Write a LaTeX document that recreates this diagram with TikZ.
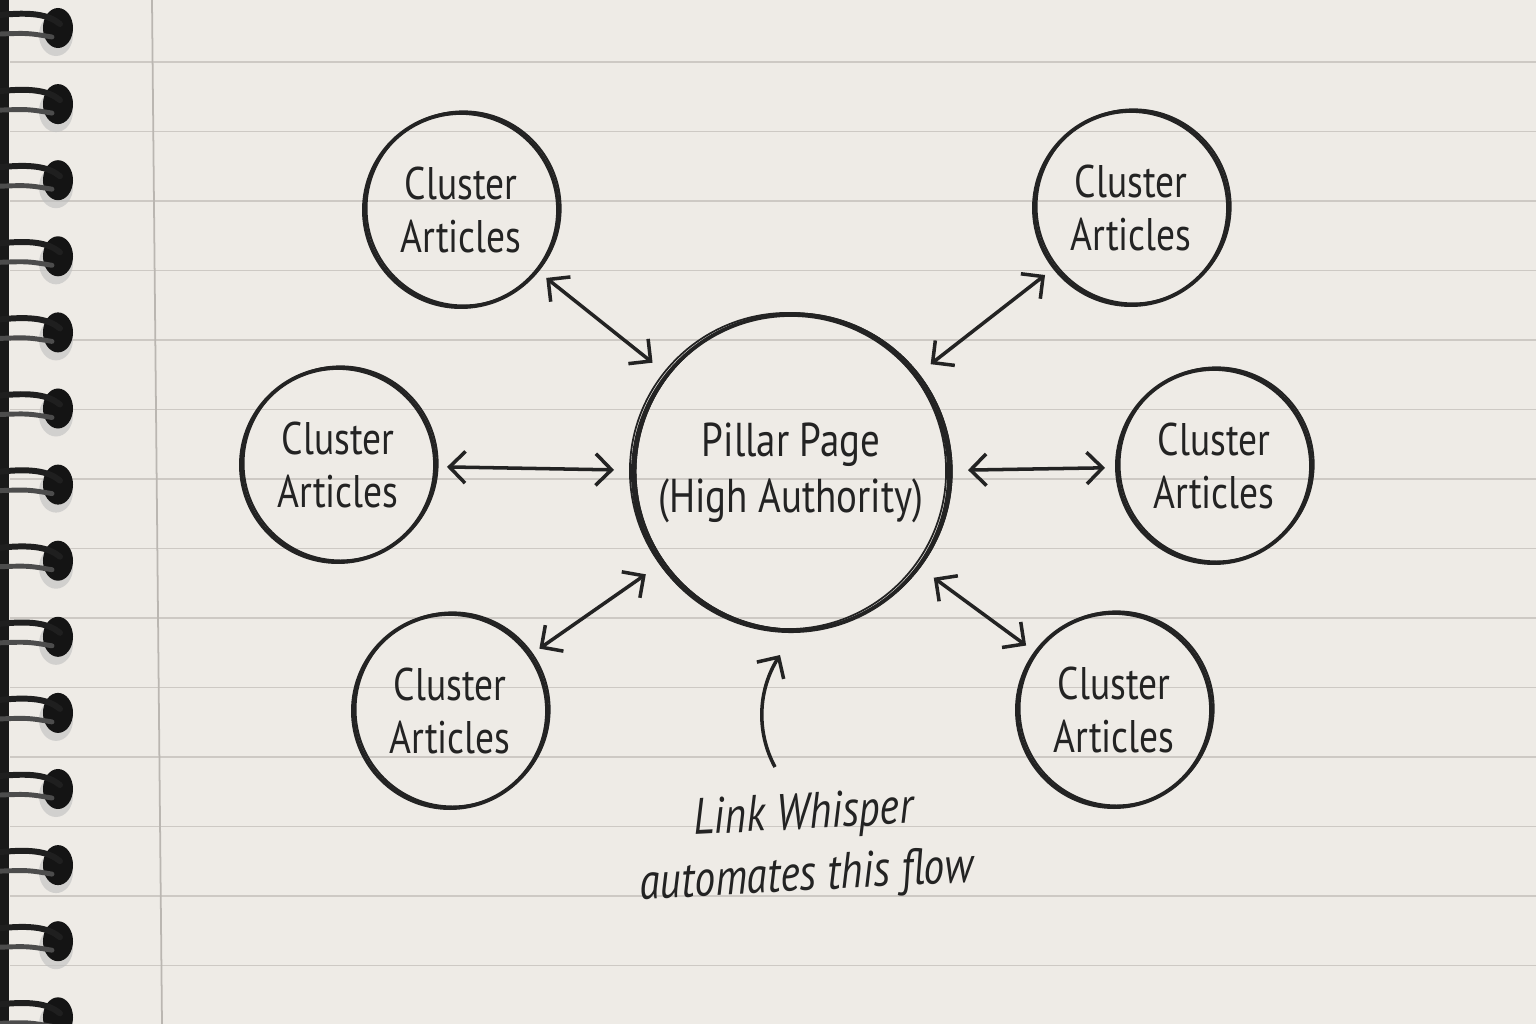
\documentclass[tikz,border=0pt]{standalone}
\usepackage{fontspec}
\setmainfont{PT Sans}[FakeStretch=0.82]
\usetikzlibrary{arrows.meta, calc}
\definecolor{paper}{HTML}{EEEBE6}
\definecolor{ink}{HTML}{232323}
\definecolor{ruling}{HTML}{CDC9C4}
\definecolor{marginline}{HTML}{BAB6B1}

\begin{document}
\begin{tikzpicture}[x=0.01cm, y=-0.01cm,
  sketch/.style={circle, draw=ink, line width=1.1pt, inner sep=0pt, align=center, text=ink,
    postaction={draw=ink, line width=0.6pt, transform canvas={shift={(0.025cm,0.015cm)}}}},
  cluster/.style={sketch, minimum size=1.94cm, font=\fontsize{13}{15}\selectfont},
  pillar/.style={sketch, minimum size=3.16cm, font=\fontsize{13.5}{16}\selectfont},
  link/.style={{Straight Barb[length=4.5pt,width=9pt]}-{Straight Barb[length=4.5pt,width=9pt]},
    draw=ink, line width=1pt, shorten <=1mm, shorten >=1.7mm},
  flow/.style={-{Straight Barb[length=4.5pt,width=9pt]}, draw=ink, line width=1pt},
  note/.style={align=center, text=ink, font=\fontsize{14.5}{17.5}\selectfont\itshape, rotate=3}]
  \useasboundingbox (0,0) rectangle (1536,1024);
  \fill[paper] (0,0) rectangle (1536,1024);
  % ruled paper
  \foreach \k in {0,...,13}
    \draw[ruling, line width=0.5pt] (10,62+69.5*\k) -- (1536,62+69.5*\k);
  \draw[marginline, line width=0.5pt] (152,0) -- (162,1024);
  % spiral binding
  \fill[black!90] (0,0) rectangle (9,1024);
  \foreach \k in {0,...,13} {
    \pgfmathsetmacro{\yy}{28+76.1*\k}
    \fill[black!25, opacity=0.6] (56,\yy+7) ellipse[x radius=1.7mm, y radius=2.1mm];
    \fill[black!92] (58,\yy) ellipse[x radius=1.5mm, y radius=2mm];
    \draw[black!88, line width=1.7pt, line cap=round] (0,\yy-13) .. controls (30,\yy-16) and (48,\yy-14) .. (60,\yy-4);
    \draw[black!70, line width=1.4pt, line cap=round] (0,\yy+6) .. controls (28,\yy+5) .. (52,\yy+9);
  }
  % hub and clusters
  \node (pillar) [pillar] at (791,473) {Pillar Page\\(High Authority)};
  \node (tl) [cluster] at (461,210) {Cluster\\Articles};
  \node (tr) [cluster] at (1131,208) {Cluster\\Articles};
  \node (ml) [cluster] at (338,465) {Cluster\\Articles};
  \node (mr) [cluster] at (1214,466) {Cluster\\Articles};
  \node (bl) [cluster] at (450,711) {Cluster\\Articles};
  \node (br) [cluster] at (1114,710) {Cluster\\Articles};
  \draw[pillar, draw=none, postaction={draw=ink, line width=0.5pt, transform canvas={shift={(-0.03cm,0.02cm)}}}] (pillar.center) circle[radius=1.58cm];
  % two-way links
  \foreach \c in {tl, tr, ml, mr, bl, br}
    \draw[link] (\c) -- (pillar);
  % annotation
  \node (note) [note] at (805,847) {Link Whisper\\automates this flow};
  \coordinate (flowtail) at (775,767);
  \coordinate (flowtip) at (780,655);
  \draw[flow] (flowtail) .. controls (756,732) and (758,690) .. (flowtip);
\end{tikzpicture}
\end{document}
